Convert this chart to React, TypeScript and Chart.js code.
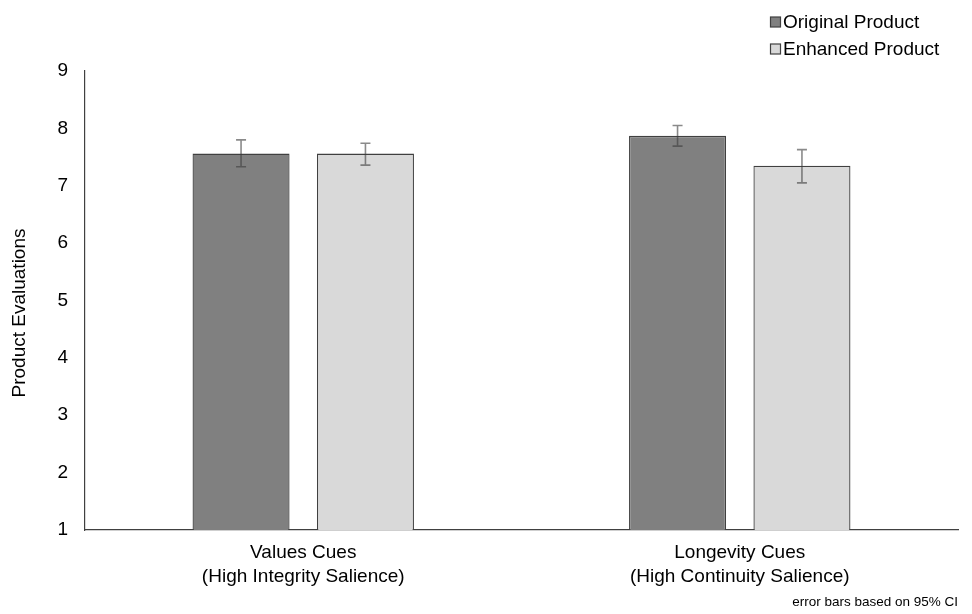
import React, { useEffect, useRef } from "react";
import { Chart, registerables } from "chart.js";

Chart.register(...registerables);

// Category labels (two lines each)
const categories: string[][] = [
  ["Values Cues", "(High Integrity Salience)"],
  ["Longevity Cues", "(High Continuity Salience)"],
];

const seriesNames = ["Original Product", "Enhanced Product"];

// Mean product evaluations
const originalMeans = [7.56, 7.87];
const enhancedMeans = [7.56, 7.35];

// 95% confidence interval bounds [low, high]
const originalCI: [number, number][] = [
  [7.33, 7.8],
  [7.69, 8.05],
];
const enhancedCI: [number, number][] = [
  [7.36, 7.74],
  [7.05, 7.63],
];

const yTicks = [1, 2, 3, 4, 5, 6, 7, 8, 9];

const FONT = "'Liberation Sans', Arial, sans-serif";
const DARK = "#808080";
const LIGHT = "#d9d9d9";
const EDGE = "#404040";

const errorBarPlugin = {
  id: "ciBars",
  afterDatasetsDraw(chart: any) {
    const ctx = chart.ctx;
    const y = chart.scales.y;
    const intervals = [originalCI, enhancedCI];
    ctx.save();
    ctx.strokeStyle = "rgba(60,60,60,0.6)";
    ctx.lineWidth = 1.6;
    chart.data.datasets.forEach((_: any, di: number) => {
      const meta = chart.getDatasetMeta(di);
      meta.data.forEach((bar: any, i: number) => {
        const [lo, hi] = intervals[di][i];
        const x = bar.x;
        const yLo = y.getPixelForValue(lo);
        const yHi = y.getPixelForValue(hi);
        const cap = 5;
        ctx.beginPath();
        ctx.moveTo(x, yLo);
        ctx.lineTo(x, yHi);
        ctx.moveTo(x - cap, yHi);
        ctx.lineTo(x + cap, yHi);
        ctx.moveTo(x - cap, yLo);
        ctx.lineTo(x + cap, yLo);
        ctx.stroke();
      });
    });
    ctx.restore();
  },
};

const annotationsPlugin = {
  id: "annotations",
  afterDraw(chart: any) {
    const ctx = chart.ctx;
    ctx.save();
    // Legend, stacked at the top right
    chart.data.datasets.forEach((ds: any, i: number) => {
      const cy = 22 + i * 27;
      ctx.fillStyle = ds.backgroundColor;
      ctx.fillRect(770.5, cy - 5, 10, 10);
      ctx.strokeStyle = EDGE;
      ctx.lineWidth = 1.2;
      ctx.strokeRect(770.5, cy - 5, 10, 10);
      ctx.fillStyle = "#000";
      ctx.font = `19px ${FONT}`;
      ctx.textAlign = "left";
      ctx.textBaseline = "middle";
      ctx.fillText(ds.label, 783, cy + 1);
    });
    // Y axis title
    ctx.save();
    ctx.translate(20, 313);
    ctx.rotate(-Math.PI / 2);
    ctx.font = `19px ${FONT}`;
    ctx.fillStyle = "#000";
    ctx.textAlign = "center";
    ctx.textBaseline = "middle";
    ctx.fillText("Product Evaluations", 0, 0);
    ctx.restore();
    // Footnote
    ctx.font = `13.5px ${FONT}`;
    ctx.fillStyle = "#000";
    ctx.textAlign = "right";
    ctx.textBaseline = "middle";
    ctx.fillText("error bars based on 95% CI", 958, 602);
    ctx.restore();
  },
};

export default function App() {
  const canvasRef = useRef<HTMLCanvasElement | null>(null);

  useEffect(() => {
    if (!canvasRef.current) return;
    const chart = new Chart(canvasRef.current, {
      type: "bar",
      data: {
        labels: categories,
        datasets: [
          {
            label: seriesNames[0],
            data: originalMeans,
            backgroundColor: DARK,
            borderColor: EDGE,
            borderWidth: 1.3,
            borderSkipped: false,
            categoryPercentage: 0.57,
            barPercentage: 0.78,
          },
          {
            label: seriesNames[1],
            data: enhancedMeans,
            backgroundColor: LIGHT,
            borderColor: EDGE,
            borderWidth: 1.3,
            borderSkipped: false,
            categoryPercentage: 0.57,
            barPercentage: 0.78,
          },
        ],
      },
      options: {
        responsive: false,
        animation: false,
        layout: { padding: { top: 71, right: 14, left: 0, bottom: 0 } },
        plugins: {
          legend: { display: false },
          tooltip: { enabled: false },
          title: { display: false },
        },
        scales: {
          x: {
            grid: { display: false, drawTicks: false },
            border: { display: true, color: EDGE, width: 1.2 },
            ticks: {
              color: "#000",
              padding: 11,
              font: { family: FONT, size: 19, lineHeight: 1.26 },
              maxRotation: 0,
              autoSkip: false,
            },
            afterFit(scale: any) {
              scale.height = 84;
            },
          },
          y: {
            min: 1,
            max: 9,
            afterBuildTicks(scale: any) {
              scale.ticks = yTicks.map((v) => ({ value: v }));
            },
            grid: { display: false, drawTicks: false },
            border: { display: true, color: EDGE, width: 1.2 },
            ticks: {
              color: "#000",
              padding: 17,
              font: { family: FONT, size: 19 },
            },
            afterFit(scale: any) {
              scale.width = 85;
            },
          },
        },
      },
      plugins: [errorBarPlugin, annotationsPlugin],
    } as any);
    return () => chart.destroy();
  }, []);

  return (
    <div style={{ position: "absolute", left: 0, top: 0, width: 972, height: 614, background: "#fff" }}>
      <canvas ref={canvasRef} width={972} height={614} style={{ width: 972, height: 614 }} />
    </div>
  );
}
